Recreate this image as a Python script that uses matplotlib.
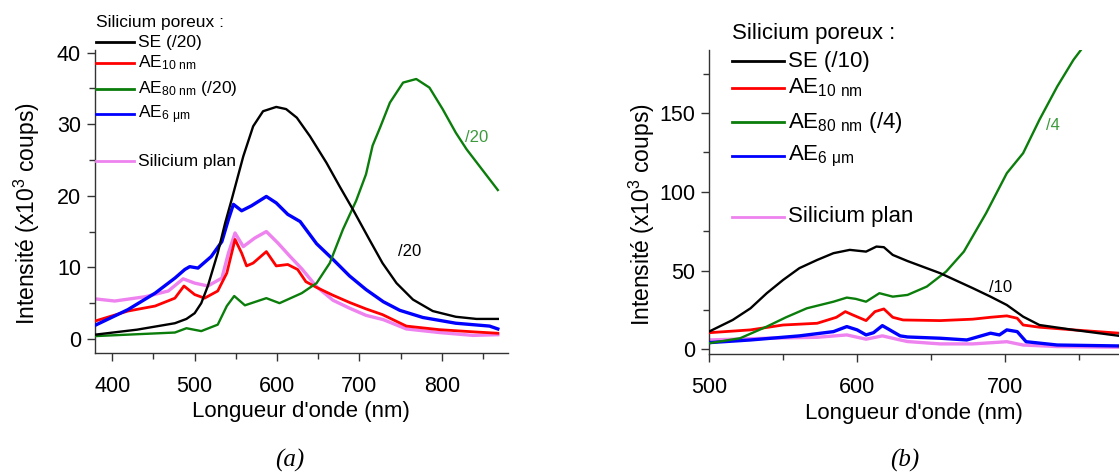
import matplotlib
matplotlib.use("Agg")
import matplotlib.pyplot as plt
from matplotlib.lines import Line2D
from matplotlib.ticker import MultipleLocator

plt.rcParams['font.family'] = ['Liberation Sans', 'DejaVu Sans']
plt.rcParams['mathtext.default'] = 'regular'

# ---- panel (a) data, intensity in 10^3 counts ----
a_se_x = [379, 430, 476, 490, 500, 508, 516, 528, 537, 545, 559, 571, 583, 599, 611, 624,
          640, 660, 676, 692, 712, 728, 745, 765, 789, 817, 842, 868]
a_se_y = [0.6, 1.3, 2.2, 2.8, 3.6, 5.0, 7.4, 12.0, 16.2, 19.5, 25.5, 29.7, 31.8, 32.4, 32.1, 30.9,
          28.3, 24.6, 21.3, 18.1, 13.9, 10.6, 7.8, 5.5, 3.9, 3.1, 2.8, 2.8]

a_ae10_x = [379, 419, 452, 476, 487, 500, 512, 528, 539, 549, 557, 563, 571, 587, 599, 613,
            625, 635, 648, 668, 688, 708, 728, 757, 797, 838, 868]
a_ae10_y = [2.5, 3.9, 4.6, 5.7, 7.4, 6.2, 5.7, 6.7, 9.2, 13.9, 12.0, 10.2, 10.6, 12.2, 10.2, 10.4,
            9.7, 8.0, 7.2, 6.1, 5.1, 4.2, 3.4, 1.8, 1.3, 1.0, 0.8]

a_ae80_x = [379, 476, 490, 508, 528, 539, 548, 561, 587, 603, 630, 648, 664, 680, 696, 708,
            716, 725, 737, 753, 769, 785, 801, 817, 830, 846, 868]
a_ae80_y = [0.4, 0.9, 1.5, 1.1, 2.0, 4.6, 6.0, 4.7, 5.7, 5.0, 6.4, 7.8, 10.6, 15.3, 19.3, 23.0,
            27.0, 29.5, 33.0, 35.8, 36.3, 35.1, 32.1, 28.8, 26.5, 24.1, 20.8]

a_ae6_x = [379, 419, 452, 476, 488, 494, 504, 520, 533, 541, 547, 557, 569, 587, 599, 613,
           628, 648, 668, 688, 708, 729, 749, 777, 817, 858, 868]
a_ae6_y = [1.9, 4.1, 6.4, 8.5, 9.7, 10.1, 9.9, 11.5, 13.6, 16.7, 18.8, 17.9, 18.6, 19.9, 19.0, 17.4,
           16.4, 13.3, 11.1, 8.8, 6.9, 5.2, 4.0, 3.0, 2.2, 1.8, 1.4]

a_plan_x = [379, 403, 440, 468, 486, 500, 516, 533, 541, 549, 559, 573, 587, 601, 616, 630,
            648, 668, 688, 708, 729, 757, 797, 838, 868]
a_plan_y = [5.6, 5.3, 5.9, 6.7, 8.4, 7.8, 7.4, 8.5, 12.0, 14.8, 12.9, 14.1, 15.0, 13.4, 11.5, 9.8,
            7.3, 5.4, 4.3, 3.3, 2.7, 1.4, 0.9, 0.5, 0.6]

# ---- panel (b) data ----
b_se_x = [500, 516, 528, 539, 550, 561, 573, 584, 595, 606, 613, 618, 624, 634, 656, 678,
          690, 701, 712, 723, 746, 777]
b_se_y = [11.2, 18.6, 26.0, 35.6, 44.0, 51.5, 56.7, 61.0, 63.1, 62.0, 65.2, 64.8, 59.9, 56.0,
          48.3, 38.8, 33.4, 28.1, 20.7, 15.4, 12.3, 8.5]

b_ae10_x = [500, 528, 550, 573, 586, 592, 597, 606, 612, 618, 624, 631, 656, 678, 690, 701,
            708, 712, 723, 746, 777]
b_ae10_y = [10.5, 12.3, 15.4, 16.5, 20.3, 23.9, 21.8, 18.2, 23.9, 25.6, 20.3, 18.6, 18.2, 19.1,
            20.3, 21.2, 19.7, 15.4, 14.0, 12.3, 10.2]

b_ae80_x = [500, 521, 539, 552, 566, 584, 593, 599, 606, 615, 624, 634, 647, 660, 672, 687,
            701, 712, 723, 735, 746, 755]
b_ae80_y = [3.8, 7.0, 14.4, 20.3, 26.0, 30.2, 32.8, 32.0, 30.2, 35.6, 33.4, 34.5, 39.8, 49.3,
            62.0, 86.4, 111.8, 124.5, 145.7, 166.8, 183.8, 195.0]

b_ae6_x = [500, 528, 561, 584, 593, 600, 606, 611, 617, 622, 629, 634, 656, 674, 690, 696,
           701, 708, 714, 735, 777]
b_ae6_y = [4.2, 5.9, 8.5, 11.2, 14.4, 12.3, 9.1, 10.5, 15.0, 12.3, 8.5, 7.8, 7.0, 5.9, 10.2,
           9.1, 12.3, 11.2, 4.8, 2.7, 2.1]

b_plan_x = [500, 539, 573, 593, 606, 617, 629, 634, 656, 678, 701, 712, 735, 777]
b_plan_y = [5.9, 7.0, 7.6, 9.1, 6.4, 8.5, 5.9, 4.9, 3.4, 3.4, 4.8, 2.7, 1.7, 1.3]

colors = ['black', '#ff0000', '#0a7d0a', '#0000ff', '#ee82ee']
widths = [1.7, 2.0, 1.7, 2.4, 2.4]

W, H = 1119, 472
fig = plt.figure(figsize=(W / 100, H / 100), dpi=100)


def fx(px):
    return px / W


def fy(py):
    return 1 - py / H


ax1 = fig.add_axes([fx(95), fy(353.3), fx(507.7) - fx(95), fy(50) - fy(353.3)])
ax2 = fig.add_axes([fx(709), fy(354.3), 1 - fx(709), fy(50) - fy(354.3)])

series_a = [(a_se_x, a_se_y), (a_ae10_x, a_ae10_y), (a_ae80_x, a_ae80_y),
            (a_ae6_x, a_ae6_y), (a_plan_x, a_plan_y)]
series_b = [(b_se_x, b_se_y), (b_ae10_x, b_ae10_y), (b_ae80_x, b_ae80_y),
            (b_ae6_x, b_ae6_y), (b_plan_x, b_plan_y)]

# draw order: pink, red, blue, green, black on top
order = [4, 1, 3, 2, 0]
for i in order:
    ax1.plot(*series_a[i], color=colors[i], lw=widths[i], zorder=2 + order.index(i))
    ax2.plot(*series_b[i], color=colors[i], lw=widths[i], zorder=2 + order.index(i))

ax1.set_xlim(379, 880)
ax1.set_ylim(-2, 40.35)
ax1.xaxis.set_major_locator(MultipleLocator(100))
ax1.xaxis.set_minor_locator(MultipleLocator(50))
ax1.yaxis.set_major_locator(MultipleLocator(10))
ax1.yaxis.set_minor_locator(MultipleLocator(5))

ax2.set_xlim(500, 776.7)
ax2.set_ylim(-3.2, 190)
ax2.xaxis.set_major_locator(MultipleLocator(100))
ax2.xaxis.set_minor_locator(MultipleLocator(50))
ax2.yaxis.set_major_locator(MultipleLocator(50))
ax2.yaxis.set_minor_locator(MultipleLocator(25))

ylab_x = {ax1: (27 - 95) / 412.7, ax2: (642 - 709) / 410.0}
for ax in (ax1, ax2):
    ax.spines['top'].set_visible(False)
    ax.spines['right'].set_visible(False)
    for s in ('left', 'bottom'):
        ax.spines[s].set_color('#333333')
        ax.spines[s].set_linewidth(1.0)
    ax.tick_params(which='major', length=6, width=1, labelsize=15.5, color='#333333')
    ax.tick_params(which='minor', length=4, width=1, color='#333333')
    ax.tick_params(axis='x', which='major', pad=10)
    ax.tick_params(axis='y', which='major', pad=4)
    ax.set_xlabel("Longueur d'onde (nm)", fontsize=16)
    ax.set_ylabel("Intensité (x10$^3$ coups)", fontsize=16.5)
    ax.xaxis.label.set_va('center')
    ax.yaxis.label.set_va('center')
    ax.xaxis.set_label_coords(0.5, (353.3 - 412) / 303.3)
    ax.yaxis.set_label_coords(ylab_x[ax], 0.46)
    ax.patch.set_alpha(0)

# annotations of scaling factors
fig.text(fx(398), fy(251), "/20", fontsize=12, color='black', va='center')
fig.text(fx(465), fy(137), "/20", fontsize=12, color='#3c9a3c', va='center')
fig.text(fx(989), fy(287), "/10", fontsize=12, color='black', va='center')
fig.text(fx(1046), fy(126), "/4", fontsize=12, color='#3c9a3c', va='center')

# legends drawn by hand to follow the uneven row spacing
labels_a = ["SE (/20)", "AE$_{10\\ nm}$", "AE$_{80\\ nm}$ (/20)", "AE$_{6\\ \\mu m}$", "Silicium plan"]
labels_b = ["SE (/10)", "AE$_{10\\ nm}$", "AE$_{80\\ nm}$ (/4)", "AE$_{6\\ \\mu m}$", "Silicium plan"]
rows_a = [42.3, 62.7, 88.7, 114.3, 161.3]
rows_b = [61, 87.7, 122.3, 156, 216.7]

fig.text(fx(96), fy(22), "Silicium poreux :", fontsize=12.5, va='center')
for i in range(5):
    fig.add_artist(Line2D([fx(96), fx(134)], [fy(rows_a[i])] * 2, color=colors[i], lw=2))
    fig.text(fx(138), fy(rows_a[i]), labels_a[i], fontsize=12.5, va='center')

fig.text(fx(732), fy(34), "Silicium poreux :", fontsize=16, va='center')
for i in range(5):
    fig.add_artist(Line2D([fx(732), fx(784)], [fy(rows_b[i])] * 2, color=colors[i], lw=2))
    fig.text(fx(788), fy(rows_b[i]), labels_b[i], fontsize=16, va='center')

# panel captions
fig.text(fx(290), fy(460), "(a)", fontsize=18, style='italic', family='Liberation Serif',
         ha='center', va='center')
fig.text(fx(905), fy(460), "(b)", fontsize=18, style='italic', family='Liberation Serif',
         ha='center', va='center')

fig.savefig("out.png", dpi=100)
